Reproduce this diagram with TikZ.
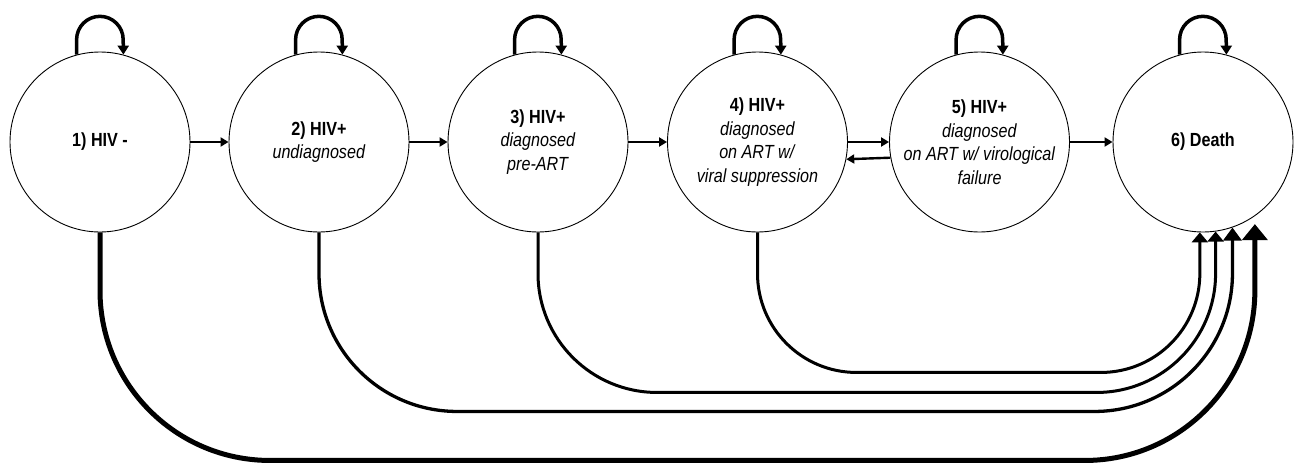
\documentclass[tikz,border=0pt]{standalone}
\usepackage{fontspec}
\setmainfont{Liberation Sans}[FakeStretch=0.85]
\usetikzlibrary{arrows.meta}

\begin{document}
\begin{tikzpicture}[x=1pt,y=1pt,
	state/.style={draw, circle, line width=0.9pt, minimum size=180pt, inner sep=0pt,
		align=center, font=\fontsize{19}{23.5}\selectfont},
	flow/.style={line width=2.4pt, -{Triangle[width=9pt,length=8pt]}},
	selfloop/.style={line width=3.5pt, -{Triangle[width=11pt,length=9pt]}},
	exit/.style={line width=3pt, -{Triangle[width=16pt,length=10pt]}}]
	\useasboundingbox (0,0) rectangle (1295,-463);
	% states
	\node (n1) at (100,-142) [state] {\textbf{1) HIV -}};
	\node (n2) at (319,-142) [state] {\textbf{2) HIV+}\\ \textit{undiagnosed}};
	\node (n3) at (538,-142) [state] {\textbf{3) HIV+}\\ \textit{diagnosed}\\ \textit{pre-ART}};
	\node (n4) at (757.5,-142) [state] {\textbf{4) HIV+}\\ \textit{diagnosed}\\
		\textit{on ART w/}\\ \textit{viral suppression}};
	\node (n5) at (979.5,-142) [state] {\textbf{5) HIV+}\\ \textit{diagnosed}\\
		\textit{on ART w/ virological}\\ \textit{failure}};
	\node (n6) at (1203,-142) [state] {\textbf{6) Death}};
	% staying in the same state
	\foreach \n in {n1,n2,n3,n4,n5,n6}
		\draw[selfloop] (\n.105) -- ++(0,15) arc[start angle=180, end angle=0, radius=23.3] -- (\n.75);
	% progression
	\draw[flow] (n1) -- (n2);
	\draw[flow] (n2) -- (n3);
	\draw[flow] (n3) -- (n4);
	\draw[flow] (n4) -- (n5);
	\draw[flow] (n5.190.9) -- (n4.349.1);
	\draw[flow] (n5) -- (n6);
	% deaths
	\draw[exit, rounded corners=99pt] (n4.south) -- ++(0,-140) -| (n6.268.1);
	\draw[exit, rounded corners=119pt] (n3.south) -- ++(0,-160) -| (n6.278.3);
	\draw[exit, line width=3.3pt, -{Triangle[width=18pt,length=13pt]}, rounded corners=138pt]
		(n2.south) -- ++(0,-179) -| (n6.289.5);
	\draw[exit, line width=5pt, -{Triangle[width=25pt,length=16pt]}, rounded corners=170pt, shorten >=8pt]
		(n1.south) -- ++(0,-228) -| (n6.305.3);
\end{tikzpicture}
\end{document}
